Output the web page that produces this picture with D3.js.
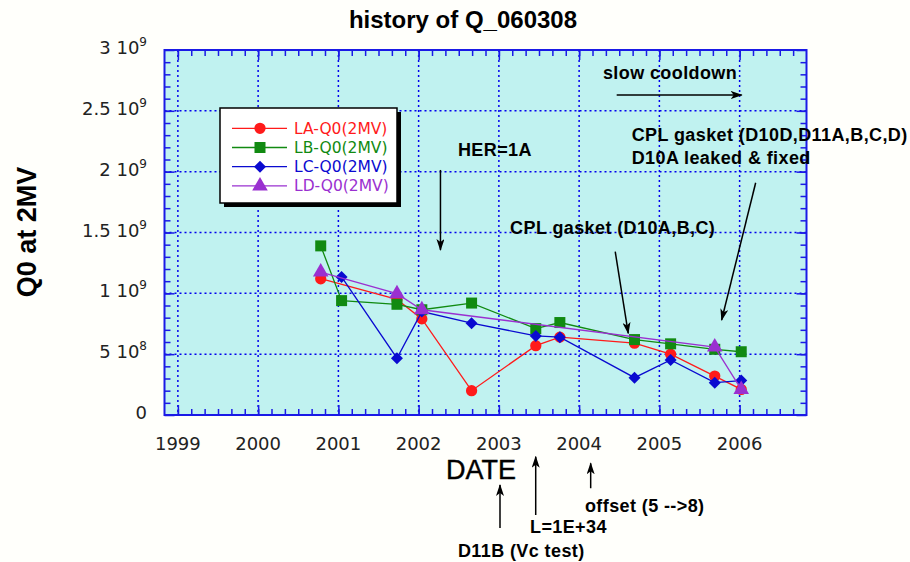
<!DOCTYPE html>
<html>
<head>
<meta charset="utf-8">
<script src="https://cdn.jsdelivr.net/npm/d3@7"></script>
<style>
  body { margin: 0; background: #fffffb; }
  svg { display: block; }
</style>
</head>
<body>
<div id="chart"></div>
<script>
// measurement dates (decimal years) shared by the four cells
const dates = [2000.78, 2001.04, 2001.73, 2002.04, 2002.66, 2003.46, 2003.76, 2004.69, 2005.14, 2005.69, 2006.02]

// Q0 at 2MV, units of 1e9 (null = not measured)
const laQ0 = [1.12, null, 0.95, 0.79, 0.20, 0.57, 0.64, 0.59, 0.50, 0.32, 0.21]
const lbQ0 = [1.39, 0.94, 0.91, 0.865, 0.92, 0.71, 0.76, 0.62, 0.585, 0.54, 0.52]
const lcQ0 = [null, 1.135, 0.467, 0.85, 0.755, 0.65, 0.64, 0.307, 0.453, 0.266, 0.283]
const ldQ0 = [1.175, null, 0.997, 0.865, null, null, null, null, null, 0.558, 0.21]

const seriesNames = ["LA-Q0(2MV)", "LB-Q0(2MV)", "LC-Q0(2MV)", "LD-Q0(2MV)"]

const xTickValues = [1999, 2000, 2001, 2002, 2003, 2004, 2005, 2006]
const yTickValues = [0, 5e8, 1e9, 1.5e9, 2e9, 2.5e9, 3e9]
const yTickLabels = ["0", "5 10^8", "1 10^9", "1.5 10^9", "2 10^9", "2.5 10^9", "3 10^9"]

// notes written on the chart: [text, date, value]
const notes = [
    ["HER=1A", 2002.49, 2.129e9],
    ["CPL gasket (D10A,B,C)", 2003.14, 1.488e9],
    ["CPL gasket (D10D,D11A,B,C,D)", 2004.655, 2.252e9],
    ["D10A leaked & fixed", 2004.655, 2.060e9],
    ["slow cooldown", 2004.297, 2.762e9],
    ["D11B (Vc test)", 2002.49, -1.171e9],
    ["L=1E+34", 2003.388, -0.966e9],
    ["offset (5 -->8)", 2004.073, -0.801e9]
]
// arrows: [fromDate, fromValue, toDate, toValue]
const arrows = [
    [2002.272, 2.014e9, 2002.272, 1.356e9],
    [2004.45, 1.342e9, 2004.612, 0.671e9],
    [2006.2, 1.909e9, 2005.776, 0.781e9],
    [2004.468, 2.630e9, 2006.026, 2.630e9],
    [2003.014, -0.929e9, 2003.014, -0.575e9],
    [2003.459, -0.822e9, 2003.459, -0.343e9],
    [2004.144, -0.602e9, 2004.144, -0.397e9]
]

const W = 910, H = 562
const margin = {top: 50, left: 164.5}
const width = 642, height = 365

const colors = ["#ff1a1a", "#118a11", "#0a0ad0", "#9a30d0"]
const shapes = [d3.symbolCircle, d3.symbolSquare, d3.symbolSquare, d3.symbolTriangle]
const sizes = [100, 121, 72, 105]
const turns = [0, 0, 45, 0]

const svg = d3.select("#chart").append("svg")
    .attr("width", W)
    .attr("height", H)

const x = d3.scaleLinear().domain([1998 + 5 / 6, 2006 + 5 / 6]).range([margin.left, margin.left + width])
const y = d3.scaleLinear().domain([0, 3e9]).range([margin.top + height, margin.top])

svg.append("defs").append("marker")
    .attr("id", "head")
    .attr("viewBox", "0 0 12 8")
    .attr("refX", 11).attr("refY", 4)
    .attr("markerWidth", 12).attr("markerHeight", 8)
    .attr("markerUnits", "userSpaceOnUse")
    .attr("orient", "auto")
    .append("path")
    .attr("d", "M0,0 L12,4 L0,8 L3,4 Z")
    .attr("fill", "#000")

// title
svg.append("text")
    .attr("x", 463).attr("y", 28)
    .attr("text-anchor", "middle")
    .style("font", "bold 24px 'Liberation Sans', Arial, sans-serif")
    .text("history of Q_060308")

// plot background
svg.append("rect")
    .attr("x", margin.left).attr("y", margin.top)
    .attr("width", width).attr("height", height)
    .attr("fill", "#c0f2f0")

// grid
const grid = svg.append("g")
    .attr("stroke", "#0000ee")
    .attr("stroke-width", 1.5)
    .attr("stroke-dasharray", "2,3")
grid.selectAll(".vg").data(xTickValues).enter().append("line")
    .attr("x1", d => x(d)).attr("x2", d => x(d))
    .attr("y1", margin.top).attr("y2", margin.top + height)
grid.selectAll(".hg").data(yTickValues.slice(1, -1)).enter().append("line")
    .attr("x1", margin.left).attr("x2", margin.left + width)
    .attr("y1", d => y(d)).attr("y2", d => y(d))

// inward ticks on all four sides
const minorX = d3.range(0, 48).map(i => 1998 + 5 / 6 + i / 6).filter(d => d > x.domain()[0] + 0.01)
const minorY = d3.range(1, 30).map(i => i * 1e8)
function tickAxis(axis, transform) {
    const g = svg.append("g").attr("transform", transform).call(axis)
    g.select(".domain").remove()
    g.selectAll("line").attr("stroke", "#1a1ae6").attr("stroke-width", 1.5)
    g.selectAll("text").remove()
}
tickAxis(d3.axisBottom(x).tickValues(minorX).tickSize(-6), `translate(0,${margin.top + height})`)
tickAxis(d3.axisBottom(x).tickValues(xTickValues).tickSize(-10), `translate(0,${margin.top + height})`)
tickAxis(d3.axisTop(x).tickValues(minorX).tickSize(-6), `translate(0,${margin.top})`)
tickAxis(d3.axisTop(x).tickValues(xTickValues).tickSize(-10), `translate(0,${margin.top})`)
tickAxis(d3.axisLeft(y).tickValues(minorY).tickSize(-6), `translate(${margin.left},0)`)
tickAxis(d3.axisLeft(y).tickValues(yTickValues).tickSize(-10), `translate(${margin.left},0)`)
tickAxis(d3.axisRight(y).tickValues(minorY).tickSize(-6), `translate(${margin.left + width},0)`)
tickAxis(d3.axisRight(y).tickValues(yTickValues).tickSize(-10), `translate(${margin.left + width},0)`)

// frame
svg.append("rect")
    .attr("x", margin.left).attr("y", margin.top)
    .attr("width", width).attr("height", height)
    .attr("fill", "none")
    .attr("stroke", "#1a1ae6")
    .attr("stroke-width", 2)

// tick labels
const tickFont = "18px 'DejaVu Sans', sans-serif"
svg.selectAll(".xl").data(xTickValues).enter().append("text")
    .attr("x", d => x(d)).attr("y", margin.top + height + 35)
    .attr("text-anchor", "middle")
    .attr("fill", "#222")
    .style("font", tickFont)
    .text(d => d)

const yl = svg.selectAll(".yl").data(yTickValues).enter().append("text")
    .attr("x", 147).attr("y", d => y(d) + 4)
    .attr("text-anchor", "end")
    .attr("fill", "#222")
    .style("font", tickFont)
yl.append("tspan").text((d, i) => yTickLabels[i].split("^")[0])
yl.append("tspan")
    .attr("dy", -8)
    .style("font-size", "12px")
    .text((d, i) => yTickLabels[i].split("^")[1] || "")

// axis titles
svg.append("text")
    .attr("transform", "translate(36,232) rotate(-90)")
    .attr("text-anchor", "middle")
    .style("font", "bold 27px 'Liberation Sans', Arial, sans-serif")
    .text("Q0 at 2MV")
svg.append("text")
    .attr("x", 481).attr("y", 479)
    .attr("text-anchor", "middle")
    .style("font", "27px 'Liberation Sans', Arial, sans-serif")
    .attr("stroke", "#000").attr("stroke-width", 0.4)
    .text("DATE")

// series
const allSeries = [laQ0, lbQ0, lcQ0, ldQ0].map((vals, k) => ({
    name: seriesNames[k],
    points: dates.map((d, i) => ({date: d, value: vals[i] == null ? null : vals[i] * 1e9}))
        .filter(p => p.value != null)
}))

const line = d3.line().x(d => x(d.date)).y(d => y(d.value))

allSeries.forEach((s, k) => {
    const g = svg.append("g")
    g.append("path")
        .attr("d", line(s.points))
        .attr("fill", "none")
        .attr("stroke", colors[k])
        .attr("stroke-width", 1.3)
    g.selectAll("path.m").data(s.points).enter().append("path")
        .attr("class", "m")
        .attr("transform", d => `translate(${x(d.date)},${y(d.value)}) rotate(${turns[k]})`)
        .attr("d", d3.symbol().type(shapes[k]).size(sizes[k]))
        .attr("fill", colors[k])
})

// legend
const lg = svg.append("g").attr("transform", "translate(220,108)")
lg.append("rect").attr("x", 4).attr("y", 4).attr("width", 177).attr("height", 95).attr("fill", "#000")
lg.append("rect").attr("width", 177).attr("height", 95).attr("fill", "#fff").attr("stroke", "#000").attr("stroke-width", 1.5)
seriesNames.forEach((name, k) => {
    const ry = 20.3 + k * 19.2
    lg.append("line")
        .attr("x1", 12).attr("x2", 67)
        .attr("y1", ry).attr("y2", ry)
        .attr("stroke", colors[k]).attr("stroke-width", 1.3)
    lg.append("path")
        .attr("transform", `translate(40,${ry}) rotate(${turns[k]})`)
        .attr("d", d3.symbol().type(shapes[k]).size(sizes[k]))
        .attr("fill", colors[k])
    lg.append("text")
        .attr("x", 74).attr("y", ry + 5.5)
        .attr("fill", colors[k])
        .style("font", "15.5px 'DejaVu Sans', sans-serif")
        .text(name)
})

// annotations
svg.selectAll(".arrow").data(arrows).enter().append("line")
    .attr("x1", d => x(d[0])).attr("y1", d => y(d[1]))
    .attr("x2", d => x(d[2])).attr("y2", d => y(d[3]))
    .attr("stroke", "#000")
    .attr("stroke-width", 1.5)
    .attr("marker-end", "url(#head)")

svg.selectAll(".note").data(notes).enter().append("text")
    .attr("x", d => x(d[1])).attr("y", d => y(d[2]))
    .style("font", "bold 18px 'Liberation Sans', Arial, sans-serif")
    .style("letter-spacing", "0.4px")
    .text(d => d[0])
</script>
</body>
</html>
